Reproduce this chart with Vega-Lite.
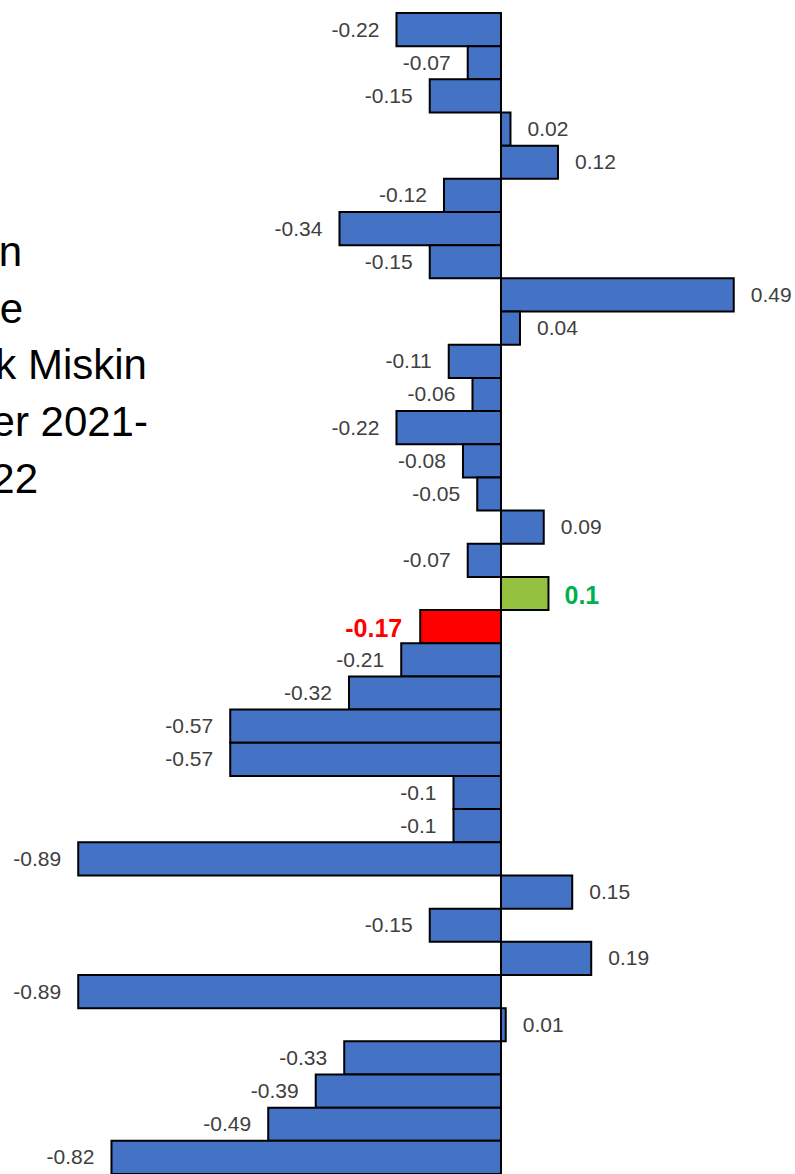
{
  "$schema": "https://vega.github.io/schema/vega-lite/v6.json",
  "width": 795,
  "height": 1161,
  "autosize": {"type": "none"},
  "padding": {"top": 13, "left": 0, "right": 0, "bottom": 0},
  "background": "white",
  "config": {"view": {"stroke": null}},
  "datasets": {
    "bars": [
      {"i": 1, "value": -0.22, "label": "-0.22", "group": "normal"},
      {"i": 2, "value": -0.07, "label": "-0.07", "group": "normal"},
      {"i": 3, "value": -0.15, "label": "-0.15", "group": "normal"},
      {"i": 4, "value": 0.02, "label": "0.02", "group": "normal"},
      {"i": 5, "value": 0.12, "label": "0.12", "group": "normal"},
      {"i": 6, "value": -0.12, "label": "-0.12", "group": "normal"},
      {"i": 7, "value": -0.34, "label": "-0.34", "group": "normal"},
      {"i": 8, "value": -0.15, "label": "-0.15", "group": "normal"},
      {"i": 9, "value": 0.49, "label": "0.49", "group": "normal"},
      {"i": 10, "value": 0.04, "label": "0.04", "group": "normal"},
      {"i": 11, "value": -0.11, "label": "-0.11", "group": "normal"},
      {"i": 12, "value": -0.06, "label": "-0.06", "group": "normal"},
      {"i": 13, "value": -0.22, "label": "-0.22", "group": "normal"},
      {"i": 14, "value": -0.08, "label": "-0.08", "group": "normal"},
      {"i": 15, "value": -0.05, "label": "-0.05", "group": "normal"},
      {"i": 16, "value": 0.09, "label": "0.09", "group": "normal"},
      {"i": 17, "value": -0.07, "label": "-0.07", "group": "normal"},
      {"i": 18, "value": 0.1, "label": "0.1", "group": "up"},
      {"i": 19, "value": -0.17, "label": "-0.17", "group": "down"},
      {"i": 20, "value": -0.21, "label": "-0.21", "group": "normal"},
      {"i": 21, "value": -0.32, "label": "-0.32", "group": "normal"},
      {"i": 22, "value": -0.57, "label": "-0.57", "group": "normal"},
      {"i": 23, "value": -0.57, "label": "-0.57", "group": "normal"},
      {"i": 24, "value": -0.1, "label": "-0.1", "group": "normal"},
      {"i": 25, "value": -0.1, "label": "-0.1", "group": "normal"},
      {"i": 26, "value": -0.89, "label": "-0.89", "group": "normal"},
      {"i": 27, "value": 0.15, "label": "0.15", "group": "normal"},
      {"i": 28, "value": -0.15, "label": "-0.15", "group": "normal"},
      {"i": 29, "value": 0.19, "label": "0.19", "group": "normal"},
      {"i": 30, "value": -0.89, "label": "-0.89", "group": "normal"},
      {"i": 31, "value": 0.01, "label": "0.01", "group": "normal"},
      {"i": 32, "value": -0.33, "label": "-0.33", "group": "normal"},
      {"i": 33, "value": -0.39, "label": "-0.39", "group": "normal"},
      {"i": 34, "value": -0.49, "label": "-0.49", "group": "normal"},
      {"i": 35, "value": -0.82, "label": "-0.82", "group": "normal"}
    ],
    "notes": [
      {"line": 1, "x": -1.0084, "text": "n"},
      {"line": 2, "x": -1.0063, "text": "e"},
      {"line": 3, "x": -0.7453, "text": "k Miskin"},
      {"line": 4, "x": -0.7432, "text": "er 2021-"},
      {"line": 5, "x": -0.9747, "text": "22"}
    ]
  },
  "layer": [
    {
      "data": {"name": "bars"},
      "encoding": {
        "y": {"field": "i", "type": "ordinal", "scale": {"paddingInner": 0, "paddingOuter": 0}, "axis": null},
        "x": {"field": "value", "type": "quantitative", "scale": {"domain": [-1.0547, 0.619], "nice": false, "zero": false}, "axis": null}
      },
      "layer": [
        {
          "mark": {"type": "bar", "stroke": "black", "strokeWidth": 2},
          "encoding": {
            "color": {"field": "group", "type": "nominal", "scale": {"domain": ["normal", "up", "down"], "range": ["#4472C4", "#94C13F", "#FF0000"]}, "legend": null}
          }
        },
        {
          "transform": [{"filter": "datum.group === 'normal' && datum.value < 0"}],
          "mark": {"type": "text", "align": "right", "baseline": "middle", "dx": -17, "dy": 1, "font": "Liberation Sans", "fontSize": 21, "color": "#404040"},
          "encoding": {"text": {"field": "label"}}
        },
        {
          "transform": [{"filter": "datum.group === 'normal' && datum.value >= 0"}],
          "mark": {"type": "text", "align": "left", "baseline": "middle", "dx": 17, "dy": 1, "font": "Liberation Sans", "fontSize": 21, "color": "#404040"},
          "encoding": {"text": {"field": "label"}}
        },
        {
          "transform": [{"filter": "datum.group === 'down'"}],
          "mark": {"type": "text", "align": "right", "baseline": "middle", "dx": -18, "dy": 2, "font": "Liberation Sans", "fontSize": 25, "fontWeight": "bold", "color": "#FF0000"},
          "encoding": {"text": {"field": "label"}}
        },
        {
          "transform": [{"filter": "datum.group === 'up'"}],
          "mark": {"type": "text", "align": "left", "baseline": "middle", "dx": 16, "dy": 2, "font": "Liberation Sans", "fontSize": 25, "fontWeight": "bold", "color": "#00B050"},
          "encoding": {"text": {"field": "label"}}
        }
      ]
    },
    {
      "data": {"name": "notes"},
      "mark": {"type": "text", "align": "right", "baseline": "middle", "font": "Liberation Sans", "fontSize": 42, "color": "black"},
      "encoding": {
        "x": {"field": "x", "type": "quantitative", "scale": {"domain": [-1.0547, 0.619], "nice": false, "zero": false}, "axis": null},
        "y": {"field": "line", "type": "quantitative", "scale": {"domain": [-3.229, 17.229], "reverse": true, "nice": false, "zero": false}, "axis": null},
        "text": {"field": "text"}
      }
    }
  ],
  "resolve": {"scale": {"y": "independent"}}
}
